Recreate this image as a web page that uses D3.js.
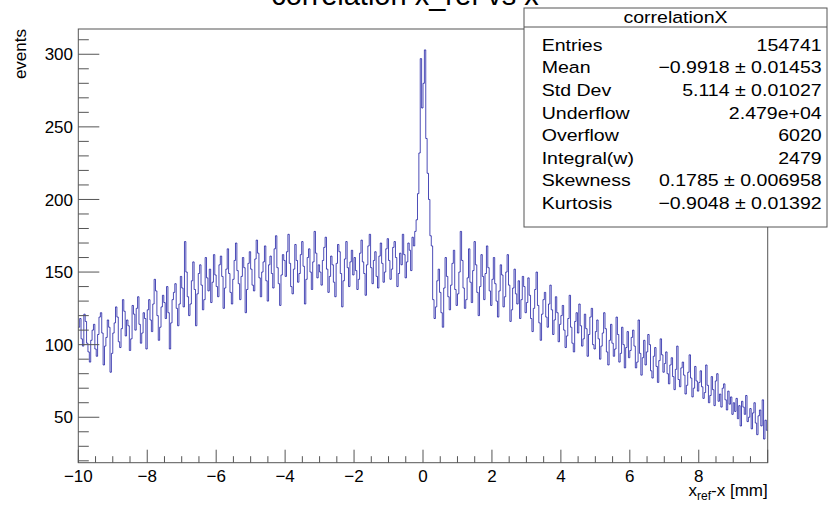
<!DOCTYPE html>
<html>
<head>
<meta charset="utf-8">
<script src="https://cdn.jsdelivr.net/npm/d3@7"></script>
<style>
  body { margin: 0; background: #fff; }
  text { font-family: "Liberation Sans", Arial, Helvetica, sans-serif; fill: #000; }
</style>
</head>
<body>
<svg id="chart" width="831" height="505"></svg>
<script>
// histogram range and bin contents (500 bins, 0.04 mm wide)
var xMin = -10, xMax = 10;
var counts = [
  // -10 .. -9
  112, 118, 104, 99, 121, 116, 101, 95, 88, 103, 110, 114, 97, 92, 107, 119, 122, 108, 86, 99, 105, 117, 112, 81, 94,
  // -9 .. -8
  108, 115, 126, 119, 102, 98, 111, 131, 123, 106, 117, 113, 96, 104, 127, 121, 110, 125, 133, 114, 101, 108, 122, 118, 97,
  // -8 .. -7
  124, 131, 117, 109, 128, 145, 137, 120, 103, 112, 126, 134, 129, 118, 140, 122, 97, 115, 131, 136, 142, 125, 113, 128, 147,
  // -7 .. -6
  139, 126, 171, 150, 133, 120, 128, 144, 157, 138, 113, 135, 149, 155, 141, 124, 131, 160, 146, 137, 152, 129, 143, 162, 148,
  // -6 .. -5
  140, 133, 155, 161, 147, 125, 139, 152, 166, 149, 136, 128, 145, 158, 170, 151, 142, 131, 147, 160, 153, 122, 138, 156, 164,
  // -5 .. -4
  152, 141, 137, 159, 172, 163, 146, 133, 150, 157, 168, 144, 130, 155, 161, 149, 139, 166, 175, 153, 142, 127, 148, 162, 158,
  // -4 .. -3
  147, 164, 176, 156, 140, 135, 152, 169, 158, 143, 149, 162, 171, 154, 128, 145, 160, 166, 150, 138, 157, 178, 163, 146, 155,
  // -3 .. -2
  150, 141, 158, 167, 174, 152, 136, 147, 161, 155, 143, 133, 156, 169, 164, 149, 126, 144, 159, 171, 153, 140, 157, 165, 148,
  // -2 .. -1
  160, 151, 138, 145, 163, 172, 157, 149, 134, 155, 168, 176, 153, 142, 158, 164, 147, 139, 161, 170, 156, 143, 150, 166, 173,
  // -1 .. 0
  158, 145, 152, 167, 171, 160, 140, 149, 163, 155, 176, 162, 146, 157, 170, 165, 151, 174, 168, 178, 186, 204, 232, 297, 263,
  // 0 .. 1
  280, 303, 242, 218, 200, 175, 168, 131, 118, 126, 144, 152, 136, 122, 112, 139, 160, 147, 133, 124, 141, 156, 165, 138, 127,
  // 1 .. 2
  135, 150, 178, 158, 139, 125, 131, 146, 166, 143, 129, 151, 171, 155, 136, 120, 140, 162, 147, 131, 149, 168, 153, 137, 127,
  // 2 .. 3
  145, 160, 142, 130, 119, 137, 155, 148, 126, 133, 150, 162, 141, 116, 124, 139, 152, 135, 128, 144, 118, 131, 147, 140, 122,
  // 3 .. 4
  129, 146, 134, 118, 109, 125, 138, 150, 127, 115, 103, 121, 131, 136, 119, 112, 128, 141, 124, 107, 117, 133, 122, 102, 114,
  // 4 .. 5
  120, 127, 110, 98, 106, 118, 134, 112, 101, 95, 116, 122, 108, 128, 113, 99, 104, 121, 111, 92, 107, 119, 125, 100, 97,
  // 5 .. 6
  109, 117, 104, 90, 99, 108, 122, 111, 95, 86, 103, 114, 101, 92, 97, 119, 107, 88, 94, 112, 100, 84, 98, 109, 91,
  // 6 .. 7
  96, 105, 110, 99, 84, 88, 117, 94, 79, 91, 103, 86, 95, 107, 100, 82, 77, 92, 98, 85, 74, 89, 104, 93, 81,
  // 7 .. 8
  87, 95, 80, 73, 86, 91, 78, 69, 83, 99, 76, 71, 84, 88, 79, 66, 72, 81, 93, 77, 64, 70, 85, 75, 68,
  // 8 .. 9
  74, 82, 71, 63, 67, 86, 72, 60, 65, 78, 69, 58, 75, 80, 61, 66, 57, 70, 73, 62, 55, 68, 59, 64, 52,
  // 9 .. 10
  60, 54, 63, 49, 58, 44, 61, 57, 52, 65, 47, 50, 56, 42, 53, 60, 46, 38, 51, 55, 44, 62, 35, 48, 41
];
var yRange = [18.7, 317.4];
var xTickLabels = [-10, -8, -6, -4, -2, 0, 2, 4, 6, 8];
var yTickLabels = [50, 100, 150, 200, 250, 300];
var histTitle = "correlation x_ref vs x";
var statName = "correlationX";
var statKeys = ["Entries", "Mean", "Std Dev", "Underflow", "Overflow", "Integral(w)", "Skewness", "Kurtosis"];
var statVals = ["154741", "\u22120.9918 \u00b1 0.01453", "5.114 \u00b1 0.01027", "2.479e+04", "6020", "2479",
                "0.1785 \u00b1 0.006958", "\u22120.9048 \u00b1 0.01392"];

var svg = d3.select("#chart");
var L = 78.3, R = 767.7, T = 29, B = 462.7;

var x = d3.scaleLinear().domain([xMin, xMax]).range([L, R]);
var y = d3.scaleLinear().domain(yRange).range([B, T]);
var bw = (xMax - xMin) / counts.length;

// title (cut at the top of the canvas, as in the original)
svg.append("text")
    .attr("x", 405).attr("y", 5)
    .attr("text-anchor", "middle")
    .style("font-size", "29px")
    .text(histTitle);

// histogram outline
var pts = counts.map((c, i) => [xMin + i * bw, c]);
pts.push([xMax, counts[counts.length - 1]]);
var line = d3.line()
    .x(d => x(d[0]))
    .y(d => y(d[1]))
    .curve(d3.curveStepAfter);

svg.append("path")
    .datum(pts)
    .attr("d", line)
    .attr("fill", "none")
    .attr("stroke", "#000099")
    .attr("stroke-opacity", 0.7)
    .attr("stroke-width", 1);

// frame
svg.append("rect")
    .attr("x", L).attr("y", T)
    .attr("width", R - L).attr("height", B - T)
    .attr("fill", "none")
    .attr("stroke", "#555");

// x axis ticks
var xMinor = d3.range(-10, 10.01, 0.5);
svg.append("g").selectAll("line")
    .data(xMinor)
    .join("line")
    .attr("x1", d => x(d)).attr("x2", d => x(d))
    .attr("y1", B)
    .attr("y2", d => (Math.abs(d % 2) < 1e-9 ? B - 13 : B - 6.5))
    .attr("stroke", "#555");

svg.append("g").selectAll("text")
    .data(xTickLabels)
    .join("text")
    .attr("x", d => x(d))
    .attr("y", 482)
    .attr("text-anchor", "middle")
    .style("font-size", "17px")
    .text(d => d3.format("d")(d));

// y axis ticks
var yMinor = d3.range(20, 311, 10);
svg.append("g").selectAll("line")
    .data(yMinor)
    .join("line")
    .attr("y1", d => y(d)).attr("y2", d => y(d))
    .attr("x1", L)
    .attr("x2", d => (d % 50 === 0 ? L + 21 : L + 10.5))
    .attr("stroke", "#555");

svg.append("g").selectAll("text")
    .data(yTickLabels)
    .join("text")
    .attr("x", 73)
    .attr("y", d => y(d))
    .attr("dy", "0.36em")
    .attr("text-anchor", "end")
    .style("font-size", "17px")
    .text(d => d);

// axis titles
var xt = svg.append("text")
    .attr("x", R).attr("y", 496)
    .attr("text-anchor", "end")
    .style("font-size", "17px");
xt.append("tspan").text("x");
xt.append("tspan").attr("dy", 4).style("font-size", "12px").text("ref");
xt.append("tspan").attr("dy", -4).text("-x [mm]");

svg.append("text")
    .attr("transform", "translate(25.5," + T + ") rotate(-90)")
    .attr("text-anchor", "end")
    .style("font-size", "17px")
    .text("events");

// statistics box (text is a little wider than the axis font)
var sx = 1.15;
var sb = svg.append("g");
sb.append("rect")
    .attr("x", 524).attr("y", 8)
    .attr("width", 303).attr("height", 219)
    .attr("fill", "#fff")
    .attr("stroke", "#555");
sb.append("line")
    .attr("x1", 524).attr("x2", 827)
    .attr("y1", 27).attr("y2", 27)
    .attr("stroke", "#555");
sb.append("text")
    .attr("transform", "translate(675.5,23) scale(" + sx + ",1)")
    .attr("text-anchor", "middle")
    .style("font-size", "17px")
    .text(statName);
sb.selectAll("text.k")
    .data(statKeys)
    .join("text")
    .attr("class", "k")
    .attr("transform", (d, i) => "translate(541.7," + (50.7 + i * 22.6) + ") scale(" + sx + ",1)")
    .style("font-size", "17px")
    .text(d => d);
sb.selectAll("text.v")
    .data(statVals)
    .join("text")
    .attr("class", "v")
    .attr("transform", (d, i) => "translate(821.7," + (50.7 + i * 22.6) + ") scale(" + sx + ",1)")
    .attr("text-anchor", "end")
    .style("font-size", "17px")
    .text(d => d);
</script>
</body>
</html>
